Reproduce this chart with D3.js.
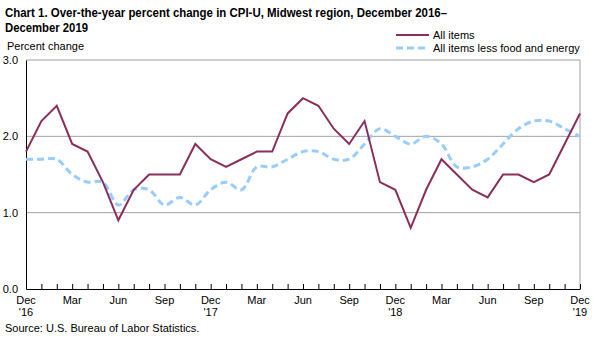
<!DOCTYPE html>
<html>
<head>
<meta charset="utf-8">
<style>
    body { margin: 0; background: #fff; }
    svg { display: block; font-family: Arial, "Liberation Sans", sans-serif; }
    .title { font-size: 13.5px; font-weight: bold; fill: #000; }
    .lbl { font-size: 11px; fill: #000; }
</style>
</head>
<body>
<svg width="599" height="341"></svg>
<script src="https://d3js.org/d3.v7.min.js"></script>
<script>
    // monthly, Dec 2016 .. Dec 2019
    const months = ["Dec","Jan","Feb","Mar","Apr","May","Jun","Jul","Aug","Sep","Oct","Nov"]
    const allItems = [1.8, 2.2, 2.4, 1.9, 1.8, 1.4, 0.9, 1.3, 1.5, 1.5, 1.5, 1.9,
                      1.7, 1.6, 1.7, 1.8, 1.8, 2.3, 2.5, 2.4, 2.1, 1.9, 2.2, 1.4,
                      1.3, 0.8, 1.3, 1.7, 1.5, 1.3, 1.2, 1.5, 1.5, 1.4, 1.5, 1.9,
                      2.3]
    const core = [1.7, 1.7, 1.7, 1.5, 1.4, 1.4, 1.1, 1.3, 1.3, 1.1, 1.2, 1.1,
                  1.3, 1.4, 1.3, 1.6, 1.6, 1.7, 1.8, 1.8, 1.7, 1.7, 1.9, 2.1,
                  2.0, 1.9, 2.0, 1.9, 1.6, 1.6, 1.7, 1.9, 2.1, 2.2, 2.2, 2.1,
                  2.0]
    const yTicks = [0, 1, 2, 3]
    const yearLabels = { 0: "'16", 12: "'17", 24: "'18", 36: "'19" }

    const svg = d3.select("svg")
    const margin = { top: 60, right: 19, bottom: 52, left: 26 }
    const width = 599 - margin.left - margin.right
    const height = 341 - margin.top - margin.bottom

    const x = d3.scaleLinear().domain([0, allItems.length - 1]).range([margin.left, margin.left + width])
    const y = d3.scaleLinear().domain([0, 3]).range([margin.top + height, margin.top])

    // title (the bold face is squeezed a little to fit the first line)
    const title = svg.append("text").attr("class", "title").attr("x", 5)
    title.append("tspan").attr("x", 5).attr("y", 17)
        .attr("textLength", 442).attr("lengthAdjust", "spacingAndGlyphs")
        .text("Chart 1. Over-the-year percent change in CPI-U, Midwest region, December 2016\u2013")
    title.append("tspan").attr("x", 5).attr("y", 32)
        .attr("textLength", 83).attr("lengthAdjust", "spacingAndGlyphs")
        .text("December 2019")

    svg.append("text").attr("class", "lbl").attr("x", 7).attr("y", 50).text("Percent change")

    // gridlines
    svg.append("g").selectAll("line")
        .data(yTicks.filter(d => d > 0))
        .join("line")
        .attr("x1", x(0)).attr("x2", x(36))
        .attr("y1", d => y(d)).attr("y2", d => y(d))
        .style("stroke", "#a0a0a0").style("stroke-width", 1)

    // right frame
    svg.append("line")
        .attr("x1", x(36)).attr("x2", x(36))
        .attr("y1", y(3)).attr("y2", y(0))
        .style("stroke", "#a0a0a0")

    // y axis
    const yAxis = svg.append("g")
        .attr("transform", `translate(${margin.left},0)`)
        .call(d3.axisLeft(y).tickValues(yTicks).tickSize(0).tickPadding(8).tickFormat(d3.format(".1f")))
    yAxis.select(".domain").attr("stroke", "#000")
    yAxis.selectAll("text").attr("class", "lbl").style("font-family", "Arial, 'Liberation Sans', sans-serif").attr("font-size", null)

    // x axis with upward ticks
    const xAxis = svg.append("g")
        .attr("transform", `translate(0,${y(0)})`)
        .call(d3.axisBottom(x).tickValues(d3.range(37)).tickSize(-5).tickSizeOuter(0).tickFormat(""))
    xAxis.select(".domain").attr("stroke", "#000")
    xAxis.selectAll(".tick line").attr("stroke", "#000")

    const labelIdx = d3.range(0, 37, 3)
    const xl = svg.append("g").selectAll("text")
        .data(labelIdx)
        .join("text")
        .attr("class", "lbl")
        .attr("text-anchor", "middle")
        .attr("x", d => x(d))
        .attr("y", y(0) + 15)
    xl.append("tspan").attr("x", d => x(d)).text(d => months[d % 12])
    xl.append("tspan").attr("x", d => x(d)).attr("dy", 12).text(d => yearLabels[d] || "")

    // lines
    const coreLine = d3.line().x((d, i) => x(i)).y(d => y(d)).curve(d3.curveCatmullRom.alpha(0.5))
    const allLine = d3.line().x((d, i) => x(i)).y(d => y(d))

    svg.append("path").datum(core)
        .attr("d", coreLine)
        .style("fill", "none").style("stroke", "#99ccff")
        .style("stroke-width", 3).style("stroke-dasharray", "7,4")

    svg.append("path").datum(allItems)
        .attr("d", allLine)
        .style("fill", "none").style("stroke", "#8c2e5c")
        .style("stroke-width", 2).style("stroke-linejoin", "miter")

    // legend
    const legend = svg.append("g")
    legend.append("line").attr("x1", 396).attr("x2", 429).attr("y1", 35).attr("y2", 35)
        .style("stroke", "#8c2e5c").style("stroke-width", 2)
    legend.append("text").attr("class", "lbl").attr("x", 433).attr("y", 39).text("All items")
    legend.append("line").attr("x1", 396).attr("x2", 429).attr("y1", 48).attr("y2", 48)
        .style("stroke", "#99ccff").style("stroke-width", 3).style("stroke-dasharray", "7,4")
    legend.append("text").attr("class", "lbl").attr("x", 433).attr("y", 52).text("All items less food and energy")

    svg.append("text").attr("class", "lbl").attr("x", 5).attr("y", 332)
        .text("Source: U.S. Bureau of Labor Statistics.")
</script>
</body>
</html>
